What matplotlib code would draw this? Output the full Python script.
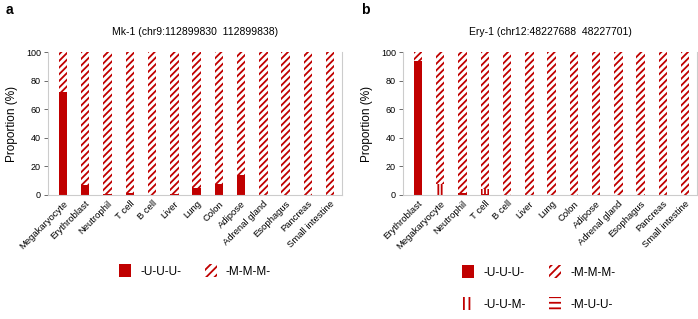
import matplotlib
matplotlib.use("Agg")
import matplotlib.pyplot as plt
from matplotlib.patches import Patch
import numpy as np

plt.rcParams['font.family'] = ['Liberation Sans', 'DejaVu Sans']
plt.rcParams['hatch.linewidth'] = 1.3

RED = '#C00000'

# Panel a data
cats_a = ["Megakaryocyte", "Erythroblast", "Neutrophil", "T cell", "B cell", "Liver",
          "Lung", "Colon", "Adipose", "Adrenal gland", "Esophagus", "Pancreas", "Small intestine"]
uuu_a = [72, 7, 1, 1.5, 0, 0.5, 5, 8, 14, 0, 0, 0, 0]
title_a = "Mk-1 (chr9:112899830  112899838)"

# Panel b data
cats_b = ["Erythroblast", "Megakaryocyte", "Neutrophil", "T cell", "B cell", "Liver",
          "Lung", "Colon", "Adipose", "Adrenal gland", "Esophagus", "Pancreas", "Small intestine"]
uuu_b = [94, 0, 1.5, 0.5, 0, 0, 0, 0, 0, 0, 0, 0, 0]
uum_b = [0, 8, 0, 3.5, 0, 0, 0, 0, 0, 0, 0, 0, 0]
muu_b = [0, 0, 0, 0, 0, 0, 0, 0, 0, 0, 0, 0, 0]
title_b = "Ery-1 (chr12:48227688  48227701)"

W, H = 698, 319
fig = plt.figure(figsize=(W / 100, H / 100), dpi=100)

def px_axes(l, r, t, b):
    return fig.add_axes([l / W, 1 - b / H, (r - l) / W, (b - t) / H])

def style(ax, cats, title):
    ax.set_ylim(0, 100)
    ax.set_xlim(-0.67, len(cats) - 0.47)
    ax.set_yticks([0, 20, 40, 60, 80, 100])
    ax.tick_params(axis='y', labelsize=6.5, length=3, width=0.6, color='#555555', pad=2)
    ax.set_xticks(np.arange(len(cats)))
    ax.set_xticklabels(cats, rotation=45, ha='right', rotation_mode='anchor', fontsize=6.8)
    ax.tick_params(axis='x', length=0, pad=3)
    ax.spines['top'].set_visible(False)
    for s in ['left', 'bottom', 'right']:
        ax.spines[s].set_color('#cccccc')
        ax.spines[s].set_linewidth(0.8)
    ax.set_ylabel("Proportion (%)", fontsize=8.5, labelpad=6)
    ax.set_title(title, fontsize=7.5, pad=12)

w = 0.38
SL = '/////'
# Panel a
axa = px_axes(48, 342, 52, 195)
x = np.arange(len(cats_a))
uuu = np.array(uuu_a)
axa.bar(x, uuu, w, color=RED, linewidth=0)
axa.bar(x, 100 - uuu, w, bottom=uuu, facecolor='white', edgecolor=RED, hatch=SL, linewidth=0)
style(axa, cats_a, title_a)

# Panel b
axb = px_axes(403, 697, 52, 195)
x = np.arange(len(cats_b))
u1 = np.array(uuu_b); u2 = np.array(uum_b); u3 = np.array(muu_b)
axb.bar(x, u1, w, color=RED, linewidth=0)
axb.bar(x, u2, w, bottom=u1, facecolor='white', edgecolor=RED, hatch='|||||', linewidth=0)
axb.bar(x, u3, w, bottom=u1 + u2, facecolor='white', edgecolor=RED, hatch='-----', linewidth=0)
rest = 100 - u1 - u2 - u3
axb.bar(x, rest, w, bottom=u1 + u2 + u3, facecolor='white', edgecolor=RED, hatch=SL, linewidth=0)
style(axb, cats_b, title_b)

fig.text(6 / W, 1 - 10 / H, "a", fontsize=10, fontweight='bold', va='center', ha='left')
fig.text(361 / W, 1 - 10 / H, "b", fontsize=10, fontweight='bold', va='center', ha='left')

h_uuu = Patch(facecolor=RED, edgecolor=RED, linewidth=0)
h_mmm = Patch(facecolor='white', edgecolor=RED, hatch='////', linewidth=0)
h_uum = Patch(facecolor='white', edgecolor=RED, hatch='|||', linewidth=0)
h_muu = Patch(facecolor='white', edgecolor=RED, hatch='---', linewidth=0)

fig.legend([h_uuu, h_mmm], ["-U-U-U-", "-M-M-M-"], ncol=2, frameon=False,
           loc='center', bbox_to_anchor=(195 / W, 1 - 271 / H), fontsize=8.5,
           handlelength=1.0, handleheight=1.3, columnspacing=2.0, handletextpad=0.8)
fig.legend([h_uuu, h_uum, h_mmm, h_muu], ["-U-U-U-", "-U-U-M-", "-M-M-M-", "-M-U-U-"], ncol=2,
           frameon=False, loc='center', bbox_to_anchor=(539 / W, 1 - 288 / H), fontsize=8.5,
           handlelength=1.0, handleheight=1.3, columnspacing=2.0, handletextpad=0.8,
           labelspacing=1.6)

fig.savefig("out.png", dpi=100)
